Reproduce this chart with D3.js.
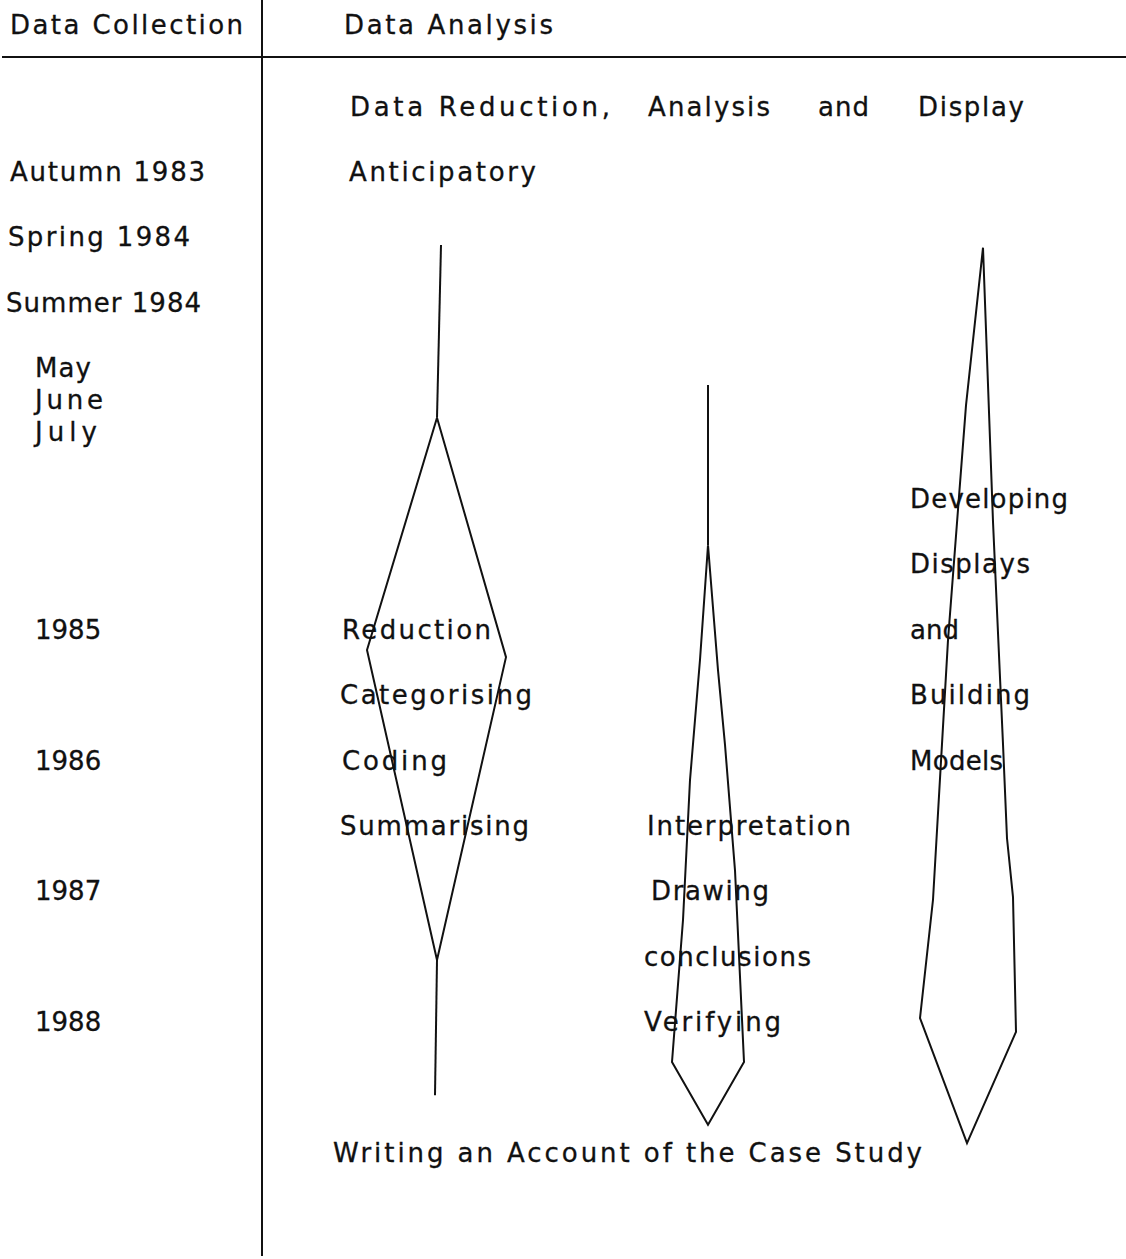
<!DOCTYPE html>
<html><head><meta charset="utf-8">
<script src="https://cdn.jsdelivr.net/npm/d3@7"></script>
<style>html,body{margin:0;padding:0;background:#fff;}svg{display:block;}</style>
</head><body>
<script>
// ---- data ----
// time rows on the left (row index on the vertical timeline)
const timeLabels = [
  {text: "Autumn 1983", row: 0,  col: "time0"},
  {text: "Spring 1984", row: 1,  col: "time1"},
  {text: "Summer 1984", row: 2,  col: "time2"},
  {text: "May",         row: 3,  col: "month"},
  {text: "June",        row: 3.49, col: "month"},
  {text: "July",        row: 3.98, col: "month"},
  {text: "1985",        row: 7,  col: "month"},
  {text: "1986",        row: 9,  col: "month"},
  {text: "1987",        row: 11, col: "month"},
  {text: "1988",        row: 13, col: "month"}
];
const headers = ["Data Collection", "Data Analysis"];
const subHeader = ["Data Reduction,", "Analysis", "and", "Display"];
const streamLabels = [
  {text: "Anticipatory",   row: 0,  col: "s1a"},
  {text: "Reduction",      row: 7,  col: "s1b"},
  {text: "Categorising",   row: 8,  col: "s1"},
  {text: "Coding",         row: 9,  col: "s1b"},
  {text: "Summarising",    row: 10, col: "s1"},
  {text: "Interpretation", row: 10, col: "s2"},
  {text: "Drawing",        row: 11, col: "s2b"},
  {text: "conclusions",    row: 12, col: "s2c"},
  {text: "Verifying",      row: 13, col: "s2c"},
  {text: "Developing",     row: 5,  col: "s3"},
  {text: "Displays",       row: 6,  col: "s3"},
  {text: "and",            row: 7,  col: "s3"},
  {text: "Building",       row: 8,  col: "s3"},
  {text: "Models",         row: 9,  col: "s3"}
];
const footer = "Writing an Account of the Case Study";
const footerRow = 15;

// stream outlines: [horizontal unit, row]
const reductionStem   = [[441, 0.98], [437, 3.62]];
const reductionShape  = [[437, 3.62], [367, 7.17], [437, 11.91], [506, 7.28], [437, 3.62]];
const reductionTail   = [[437, 11.91], [435, 13.98]];
const conclusionStem  = [[708, 3.12], [708, 5.57]];
const conclusionShape = [[708, 5.57], [700, 7.32], [690, 9.16], [683, 11.3], [672, 13.47],
                         [708, 14.43], [744, 13.47], [735, 10.54], [725, 8.62], [718, 7.48], [708, 5.57]];
const displayShape    = [[983, 1.02], [966, 3.43], [948, 7.02], [933, 10.99], [920, 12.8],
                         [967, 14.71], [1016, 13.01], [1013, 10.95], [1007, 10.05], [1003, 8.61],
                         [993, 5.21], [983, 1.02]];

// ---- layout ----
const W = 1126, H = 1259;
const x = d3.scaleLinear().domain([0, 1126]).range([0, W]);
const y = d3.scaleLinear().domain([0, 15]).range([181, 1162]);

const svg = d3.select("body").append("svg").attr("width", W).attr("height", H);
const font = "'DejaVu Sans', sans-serif";
const fs = 26;

function txt(s, px, py, len) {
  const t = svg.append("text").attr("x", px).attr("y", py)
    .attr("font-family", font).attr("font-size", fs).attr("fill", "#111")
    .attr("stroke", "#111").attr("stroke-width", 0.3)
    .text(s);
  if (len) t.attr("textLength", len).attr("lengthAdjust", "spacing");
  return t;
}

// frame lines
svg.append("line").attr("x1", 262).attr("x2", 262).attr("y1", 0).attr("y2", 1256)
  .attr("stroke", "#111").attr("stroke-width", 2);
svg.append("line").attr("x1", 2).attr("x2", W).attr("y1", 57).attr("y2", 57)
  .attr("stroke", "#111").attr("stroke-width", 2);

// headers
txt(headers[0], 10, 34, 233);
txt(headers[1], 344, 34, 209);
const subX = [[350, 260], [648, 122], [818, 51], [918, 106]];
subHeader.forEach((s, i) => txt(s, subX[i][0], y(-1), subX[i][1]));

// time labels
const colX = {time0: [10], time1: [8], time2: [6], month: [35]};
const widths = {"Autumn 1983": 195, "Spring 1984": 182, "Summer 1984": 195, "May": 56, "June": 68, "July": 62,
  "Anticipatory": 187, "Reduction": 149, "Categorising": 192, "Coding": 105, "Summarising": 189,
  "Interpretation": 204, "Drawing": 118, "conclusions": 167, "Verifying": 137,
  "Developing": 158, "Displays": 120, "and": 49, "Building": 120, "Models": 93};
timeLabels.forEach(d => txt(d.text, colX[d.col][0], y(d.row), widths[d.text]));

const streamX = {s1: 340, s1a: 349, s1b: 342, s2: 647, s2b: 651, s2c: 644, s3: 910};
streamLabels.forEach(d => txt(d.text, streamX[d.col], y(d.row), widths[d.text]));

txt(footer, 333, y(footerRow), 589);

// outlines
const line = d3.line().x(d => x(d[0])).y(d => y(d[1]));
[reductionStem, reductionShape, reductionTail, conclusionStem, conclusionShape, displayShape]
  .forEach(p => svg.append("path").attr("d", line(p)).attr("fill", "none")
    .attr("stroke", "#111").attr("stroke-width", 2).attr("stroke-linejoin", "miter"));
</script>
</body></html>
